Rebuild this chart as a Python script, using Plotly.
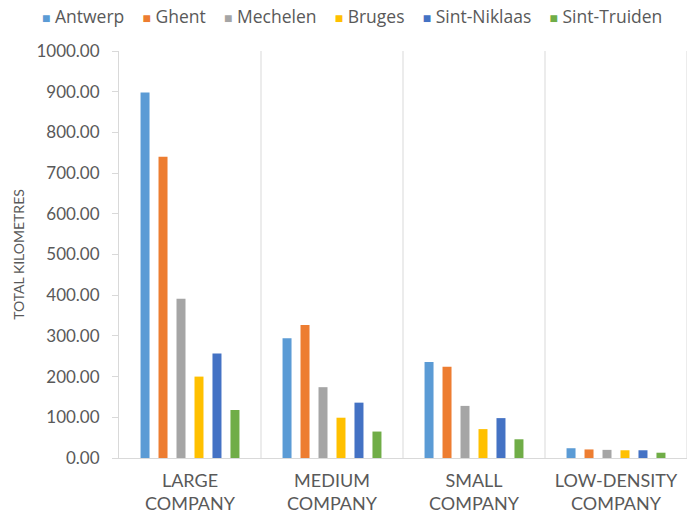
import plotly.graph_objects as go

categories = ["LARGE<br>COMPANY", "MEDIUM<br>COMPANY", "SMALL<br>COMPANY", "LOW-DENSITY<br>COMPANY"]
series_names = ["Antwerp", "Ghent", "Mechelen", "Bruges", "Sint-Niklaas", "Sint-Truiden"]
antwerp = [898, 294, 236, 24]
ghent = [740, 327, 224, 21]
mechelen = [391, 174, 128, 20]
bruges = [200, 99, 71, 19]
sint_niklaas = [257, 136, 98, 19]
sint_truiden = [118, 65, 46, 13]
values = [antwerp, ghent, mechelen, bruges, sint_niklaas, sint_truiden]
colors = ["#5B9BD5", "#ED7D31", "#A5A5A5", "#FFC000", "#4472C4", "#70AD47"]
y_ticks = [0, 100, 200, 300, 400, 500, 600, 700, 800, 900, 1000]

x_pos = list(range(len(categories)))
fig = go.Figure()
for name, vals, col in zip(series_names, values, colors):
    fig.add_trace(go.Bar(name=name, x=x_pos, y=vals, marker=dict(color=col, line=dict(width=0)),
                         showlegend=False))

# category separators
for sep in [0.5, 1.5, 2.5, 3.5]:
    fig.add_shape(type="line", xref="x", yref="paper", x0=sep, x1=sep, y0=0, y1=1,
                  line=dict(color="#d9d9d9", width=1), layer="below")

# compact one-line legend (Excel style) built from the series names and colours
legend_text = "&nbsp;&nbsp;&nbsp;&nbsp;".join(
    f"<span style='color:{c};font-size:14px'>■</span>&nbsp;{n}" for n, c in zip(series_names, colors)
)
fig.add_annotation(text=legend_text, xref="paper", yref="paper", x=-(119 - 40) / 568, y=1.0 + 35 / 407,
                   xanchor="left", yanchor="middle", showarrow=False,
                   font=dict(family="Open Sans", size=17.5, color="#595959"))

fig.update_layout(
    width=691, height=520,
    margin=dict(l=119, r=4, t=51, b=62, autoexpand=False),
    barmode="group", bargap=0.24, bargroupgap=0.5,
    plot_bgcolor="white", paper_bgcolor="white",
    font=dict(family="Lato", color="#595959", size=15),
    showlegend=False,
)
fig.update_xaxes(
    tickmode="array", tickvals=x_pos, ticktext=categories, range=[-0.5, 3.5],
    showgrid=False, zeroline=False, showline=True, linecolor="#d9d9d9", linewidth=1,
    ticks="", tickfont=dict(size=18, color="#595959"), ticklabelstandoff=6,
)
fig.update_yaxes(
    range=[0, 1000], tickvals=y_ticks, tickformat=".2f", showgrid=False, zeroline=False,
    showline=True, linecolor="#d9d9d9", linewidth=1, ticks="outside", ticklen=6, tickcolor="#d9d9d9",
    tickfont=dict(size=17, color="#595959"), ticklabelstandoff=9,
    title=dict(text="TOTAL KILOMETRES", font=dict(size=14, color="#595959"), standoff=8),
)

fig.write_html("out.html")
